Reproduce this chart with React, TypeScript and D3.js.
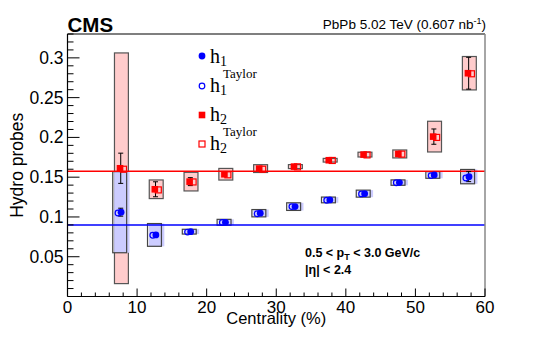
import React from 'react';
import * as d3 from 'd3';

const width = 540;
const height = 339;
const margin = { top: 34, right: 55, bottom: 42.5, left: 67.5 };

// centrality bin centres (%)
const centrality = [7.5, 12.5, 17.5, 22.5, 27.5, 32.5, 37.5, 42.5, 47.5, 52.5, 57.5];

const h1 = [0.106, 0.0774, 0.0815, 0.0933, 0.1047, 0.113, 0.1214, 0.1293, 0.1432, 0.1528, 0.1507];
const h1Stat = [0.005, 0.003, 0.0015, 0.0015, 0.0015, 0.0015, 0.0015, 0.0015, 0.0015, 0.002, 0.0063];
const h1Sys = [0.051, 0.0143, 0.003, 0.0037, 0.0046, 0.0048, 0.0036, 0.0044, 0.0034, 0.0042, 0.009];
const h1Taylor = [0.105, 0.077, 0.081, 0.093, 0.104, 0.113, 0.121, 0.129, 0.143, 0.152, 0.149];

const h2 = [0.1612, 0.1348, 0.1444, 0.1537, 0.1608, 0.1633, 0.1713, 0.1784, 0.1792, 0.201, 0.2807];
const h2Stat = [0.019, 0.0094, 0.005, 0.002, 0.002, 0.002, 0.002, 0.002, 0.003, 0.0096, 0.02];
const h2Sys = [0.145, 0.0117, 0.0117, 0.0073, 0.0049, 0.0025, 0.0023, 0.003, 0.005, 0.0193, 0.021];
const h2Taylor = [0.16, 0.134, 0.144, 0.153, 0.16, 0.163, 0.171, 0.178, 0.179, 0.2, 0.28];

const h1Line = 0.09;
const h2Line = 0.1575;

const xTicks = [0, 10, 20, 30, 40, 50, 60];
const yTicks = [0.05, 0.1, 0.15, 0.2, 0.25, 0.3];

const sans = '"Liberation Sans", Arial, sans-serif';
const serif = '"Liberation Serif", "Times New Roman", serif';

const BLUE = '#0000ff';
const RED = '#ff0000';

export default function App() {
  const x = d3.scaleLinear().domain([0, 60]).range([margin.left, width - margin.right]);
  const y = d3.scaleLinear().domain([0, 0.33]).range([height - margin.bottom, margin.top]);
  const x0 = x(0), x1 = x(60), y0 = y(0), yTop = y(0.33);
  const boxW = x(2) - x(0);

  const xMinor = d3.range(0, 60.01, 2);
  const yMinor = d3.range(0.01, 0.331, 0.01);

  const errBar = (cx: number, v: number, e: number, key: string) => {
    const a = y(v + e), b = y(v - e);
    if (b - a < 5) return null;
    return (
      <g key={key} stroke="#000" strokeWidth={1}>
        <line x1={cx} x2={cx} y1={a} y2={b} />
        <line x1={cx - 2.5} x2={cx + 2.5} y1={a} y2={a} />
        <line x1={cx - 2.5} x2={cx + 2.5} y1={b} y2={b} />
      </g>
    );
  };

  return (
    <svg width={width} height={height} style={{ position: 'absolute', left: 0, top: 0, background: '#fff' }}>
      {/* systematic boxes: h2 first, h1 over it */}
      {centrality.map((c, i) => (
        <g key={'b2' + i}>
          <rect x={x(c + 0.25) - boxW / 2} y={y(h2[i] + h2Sys[i])} width={boxW}
            height={y(h2[i] - h2Sys[i]) - y(h2[i] + h2Sys[i])} fill="#ffcccc" />
          <rect x={x(c + 0.25) - boxW / 2} y={y(h2[i] + h2Sys[i])} width={boxW}
            height={y(h2[i] - h2Sys[i]) - y(h2[i] + h2Sys[i])} fill="none" stroke="#555" strokeWidth={1.2} />
        </g>
      ))}
      {centrality.map((c, i) => (
        <g key={'b1' + i}>
          <rect x={x(c + 0.2) - boxW / 2} y={y(h1[i] + h1Sys[i])} width={boxW + 1.5}
            height={y(h1[i] - h1Sys[i]) - y(h1[i] + h1Sys[i])} fill="#ccccff" />
          <rect x={x(c) - boxW / 2} y={y(h1[i] + h1Sys[i])} width={boxW}
            height={y(h1[i] - h1Sys[i]) - y(h1[i] + h1Sys[i])} fill="none" stroke="#444" strokeWidth={1.2} />
        </g>
      ))}

      {/* reference lines */}
      <line x1={x0} x2={x1} y1={y(h2Line)} y2={y(h2Line)} stroke={RED} strokeWidth={1.5} />
      <line x1={x0} x2={x1} y1={y(h1Line)} y2={y(h1Line)} stroke={BLUE} strokeWidth={1.5} />

      {/* error bars and markers */}
      {centrality.map((c, i) => errBar(x(c + 0.15), h2[i], h2Stat[i], 'e2' + i))}
      {centrality.map((c, i) => errBar(x(c + 0.15), h1[i], h1Stat[i], 'e1' + i))}
      {centrality.map((c, i) => (
        <g key={'m' + i}>
          <rect x={x(c + 0.55) - 3} y={y(h2Taylor[i]) - 3} width={6} height={6} fill="none" stroke={RED} strokeWidth={1.2} />
          <rect x={x(c + 0.05) - 3.3} y={y(h2[i]) - 3.3} width={6.6} height={6.6} fill={RED} />
          <circle cx={x(c - 0.25)} cy={y(h1Taylor[i])} r={2.8} fill="none" stroke={BLUE} strokeWidth={1.2} />
          <circle cx={x(c + 0.2)} cy={y(h1[i])} r={3.4} fill={BLUE} />
        </g>
      ))}

      {/* frame */}
      <line x1={x0} x2={x1} y1={yTop} y2={yTop} stroke="#000" strokeWidth={1.2} />
      <line x1={x1} x2={x1} y1={yTop} y2={y0} stroke="#888" strokeWidth={1.5} />
      <line x1={x0} x2={x1} y1={y0} y2={y0} stroke="#000" strokeWidth={1.2} />
      <line x1={x0} x2={x0} y1={yTop} y2={y0} stroke="#000" strokeWidth={1.2} />

      {/* x ticks */}
      {xMinor.map(t => (
        <line key={'xm' + t} x1={x(t)} x2={x(t)} y1={y0} y2={y0 - (t % 10 === 0 ? 8 : 4)} stroke="#000" />
      ))}
      {xTicks.map(t => (
        <text key={'xt' + t} x={x(t)} y={y0 + 16.5} textAnchor="middle" fontFamily={sans} fontSize={17}>{t}</text>
      ))}
      <text x={x(30)} y={y0 + 27} textAnchor="middle" fontFamily={sans} fontSize={16.5}>Centrality (%)</text>

      {/* y ticks */}
      {yMinor.map(t => {
        const major = Math.abs(t * 20 - Math.round(t * 20)) < 1e-6;
        return <line key={'ym' + t} x1={x0} x2={x0 + (major ? 12 : 6)} y1={y(t)} y2={y(t)} stroke="#000" />;
      })}
      {yTicks.map(t => (
        <text key={'yt' + t} x={x0 - 4} y={y(t) + 6} textAnchor="end" fontFamily={sans} fontSize={17.5}>{t}</text>
      ))}
      <text transform={`translate(23,${y(0.165)}) rotate(-90)`} textAnchor="middle" fontFamily={sans} fontSize={17.5}>Hydro probes</text>

      {/* header */}
      <text x={x0} y={32} fontFamily={sans} fontWeight="bold" fontSize={20.5}>CMS</text>
      <text x={x1 + 1} y={29} textAnchor="end" fontFamily={sans} fontSize={13.5}>
        PbPb 5.02 TeV (0.607 nb<tspan dy={-5} fontSize={9}>-1</tspan><tspan dy={5}>)</tspan>
      </text>

      {/* legend */}
      <g fontFamily={serif}>
        <circle cx={202} cy={56} r={3.4} fill={BLUE} />
        <text x={210} y={63} fontSize={20}>h<tspan dy={3} fontSize={14}>1</tspan></text>
        <circle cx={202} cy={86} r={2.8} fill="none" stroke={BLUE} strokeWidth={1.2} />
        <text x={210} y={92} fontSize={20}>h<tspan dy={3} fontSize={14}>1</tspan></text>
        <text x={223} y={77.5} fontSize={13}>Taylor</text>
        <rect x={198.7} y={111.7} width={6.6} height={6.6} fill={RED} />
        <text x={210} y={121} fontSize={20}>h<tspan dy={3} fontSize={14}>2</tspan></text>
        <rect x={199} y={141} width={6} height={6} fill="none" stroke={RED} strokeWidth={1.2} />
        <text x={210} y={150} fontSize={20}>h<tspan dy={3} fontSize={14}>2</tspan></text>
        <text x={223} y={135.5} fontSize={13}>Taylor</text>
      </g>

      {/* kinematic cuts */}
      <g fontFamily={sans} fontWeight="bold" fontSize={12.5}>
        <text x={305} y={257}>0.5 &lt; p<tspan dy={3} fontSize={9}>T</tspan><tspan dy={-3}> &lt; 3.0 GeV/c</tspan></text>
        <text x={305} y={274}>|η| &lt; 2.4</text>
      </g>
    </svg>
  );
}
